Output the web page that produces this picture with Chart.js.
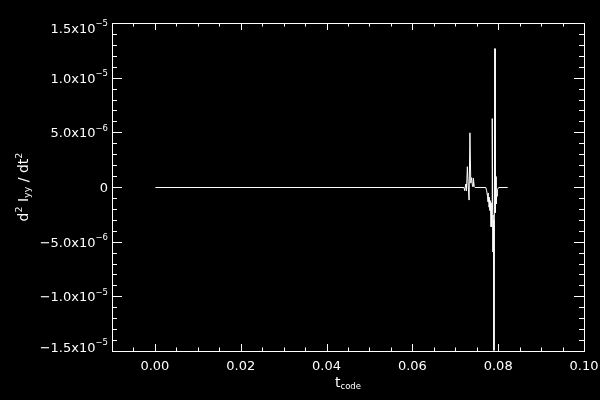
<!DOCTYPE html>
<html>
<head>
<meta charset="utf-8">
<script src="https://cdn.jsdelivr.net/npm/chart.js@4.4.0/dist/chart.umd.min.js"></script>
<style>
html,body{margin:0;padding:0;background:#000;}
#wrap{width:600px;height:400px;}
</style>
</head>
<body>
<div id="wrap"><canvas id="c"></canvas></div>
<script>
// data
const tCode = [0, 0.0719, 0.0721, 0.0723, 0.0725, 0.0727, 0.0729, 0.0731, 0.0733, 0.0735, 0.0737, 0.0739, 0.0741, 0.0743, 0.0745,
  0.0770, 0.0772, 0.0774, 0.0775, 0.0776, 0.0777, 0.0778, 0.0779, 0.0780, 0.0781, 0.0782, 0.0783, 0.0784, 0.0785, 0.0786, 0.0787, 0.0788, 0.0789,
  0.0791, 0.0792, 0.0793, 0.0794, 0.0795, 0.0797, 0.0800, 0.0821];
const d2Iyy = [0, 0, -0.3e-6, 0.3e-6, -0.3e-6, 1.9e-6, 0.2e-6, -1.15e-6, 5.0e-6, 0.4e-6, 0.9e-6, 0.1e-6, 0.85e-6, 0.1e-6, 0,
  0, -0.3e-6, -0.8e-6, -0.5e-6, -1.3e-6, -0.9e-6, -1.8e-6, -1.2e-6, -2.1e-6, -1.4e-6, -3.0e-6, -3.6e-6, -2.0e-6, 6.3e-6, -2.5e-6, -5.9e-6, -3.0e-6, -1.49e-5,
  1.27e-5, -2.3e-6, 1.0e-6, -1.5e-6, -0.8e-6, -0.2e-6, 0, 0];

const xTicks = [0, 0.02, 0.04, 0.06, 0.08, 0.10];
const xTickLabels = ["0.00", "0.02", "0.04", "0.06", "0.08", "0.10"];
const yTicks = [-1.5e-5, -1.0e-5, -5e-6, 0, 5e-6, 1.0e-5, 1.5e-5];
const yTickMain = ["\u22121.5x10", "\u22121.0x10", "\u22125.0x10", "0", "5.0x10", "1.0x10", "1.5x10"];
const yTickExp = ["\u22125", "\u22125", "\u22126", "", "\u22126", "\u22125", "\u22125"];
const xMin = -0.01, xMax = 0.10, xMinor = 0.005;
const yMin = -1.5e-5, yMax = 1.5e-5, yMinor = 1e-6;

const FONT = '"DejaVu Sans", sans-serif';

// draws pieces of text (normal / sup / sub) one after the other
function richWidth(ctx, parts){
  let w = 0;
  parts.forEach(p => { ctx.font = p[1] + 'px ' + FONT; w += ctx.measureText(p[0]).width; });
  return w;
}
function richDraw(ctx, parts, x, y){
  parts.forEach(p => {
    ctx.font = p[1] + 'px ' + FONT;
    ctx.fillText(p[0], x, y + p[2]);
    x += ctx.measureText(p[0]).width;
  });
}

const idlFrame = {
  id: 'idlFrame',
  beforeDraw(chart){
    const ctx = chart.ctx;
    ctx.save();
    ctx.fillStyle = '#000';
    ctx.fillRect(0, 0, chart.width, chart.height);
    ctx.restore();
  },
  // half pixel shift so the 1px line lands on whole pixels
  beforeDatasetsDraw(chart){
    chart.ctx.save();
    chart.ctx.translate(0.5, 0.5);
  },
  afterDatasetsDraw(chart){
    chart.ctx.restore();
  },
  afterDraw(chart){
    const ctx = chart.ctx, a = chart.chartArea, x = chart.scales.x, y = chart.scales.y;
    ctx.save();
    ctx.strokeStyle = '#fff';
    ctx.fillStyle = '#fff';
    ctx.lineWidth = 1;
    ctx.strokeRect(a.left + 0.5, a.top + 0.5, a.right - a.left, a.bottom - a.top);

    // x ticks, bottom and top, pointing inwards
    ctx.beginPath();
    const nx = Math.round((xMax - xMin) / xMinor);
    for(let k = 0; k <= nx; k++){
      const v = xMin + k * xMinor;
      const major = xTicks.some(t => Math.abs(t - v) < 1e-9);
      const len = major ? 7 : 3.5;
      const px = Math.round(x.getPixelForValue(v)) + 0.5;
      ctx.moveTo(px, a.bottom); ctx.lineTo(px, a.bottom - len);
      ctx.moveTo(px, a.top); ctx.lineTo(px, a.top + len);
    }
    // y ticks, left and right
    const ny = Math.round((yMax - yMin) / yMinor);
    for(let k = 0; k <= ny; k++){
      const v = yMin + k * yMinor;
      const major = yTicks.some(t => Math.abs(t - v) < 1e-12);
      const len = major ? 10 : 5;
      const py = Math.round(y.getPixelForValue(v)) + 0.5;
      ctx.moveTo(a.left, py); ctx.lineTo(a.left + len, py);
      ctx.moveTo(a.right, py); ctx.lineTo(a.right - len, py);
    }
    ctx.stroke();

    // x tick labels
    ctx.font = '13px ' + FONT;
    ctx.textAlign = 'center';
    ctx.textBaseline = 'alphabetic';
    xTicks.forEach((v, i) => {
      ctx.fillText(xTickLabels[i], x.getPixelForValue(v), a.bottom + 18.5);
    });

    // y tick labels with exponent
    ctx.textAlign = 'left';
    yTicks.forEach((v, i) => {
      let py = y.getPixelForValue(v);
      if(i === 0) py -= 4.5;
      if(i === yTicks.length - 1) py += 4.5;
      const parts = [[yTickMain[i], 13, 5]];
      if(yTickExp[i]) parts.push([yTickExp[i], 8.5, -1.6]);
      const w = richWidth(ctx, parts);
      richDraw(ctx, parts, a.left - 4 - w, py);
    });

    // x title
    const xt = [["t", 14, 0], ["code", 8.5, 1.5]];
    const cx = (a.left + a.right) / 2;
    richDraw(ctx, xt, cx - richWidth(ctx, xt) / 2, 387);

    // y title, rotated
    const yt = [["d", 14, 0], ["2", 9.5, -6], [" I", 14, 0], ["yy", 9.5, 2], [" / dt", 14, 0], ["2", 9.5, -6]];
    ctx.translate(28, (a.top + a.bottom) / 2);
    ctx.rotate(-Math.PI / 2);
    richDraw(ctx, yt, -richWidth(ctx, yt) / 2, 0);
    ctx.restore();
  }
};

new Chart(document.getElementById("c"), {
  type: 'line',
  data: {
    datasets: [{
      data: tCode.map((t, i) => ({x: t, y: d2Iyy[i]})),
      borderColor: '#fff',
      borderWidth: 1,
      pointRadius: 0,
      tension: 0,
      fill: false
    }]
  },
  options: {
    animation: false,
    responsive: true,
    maintainAspectRatio: false,
    layout: {padding: {top: 23, right: 16, left: 0, bottom: 0}},
    plugins: {legend: {display: false}, tooltip: {enabled: false}},
    scales: {
      x: {
        type: 'linear', min: xMin, max: xMax,
        grid: {display: false, drawTicks: false},
        border: {display: false},
        ticks: {display: false},
        afterFit(s){ s.height = 49; }
      },
      y: {
        type: 'linear', min: yMin, max: yMax,
        grid: {display: false, drawTicks: false},
        border: {display: false},
        ticks: {display: false},
        afterFit(s){ s.width = 112; }
      }
    }
  },
  plugins: [idlFrame]
});
</script>
</body>
</html>
